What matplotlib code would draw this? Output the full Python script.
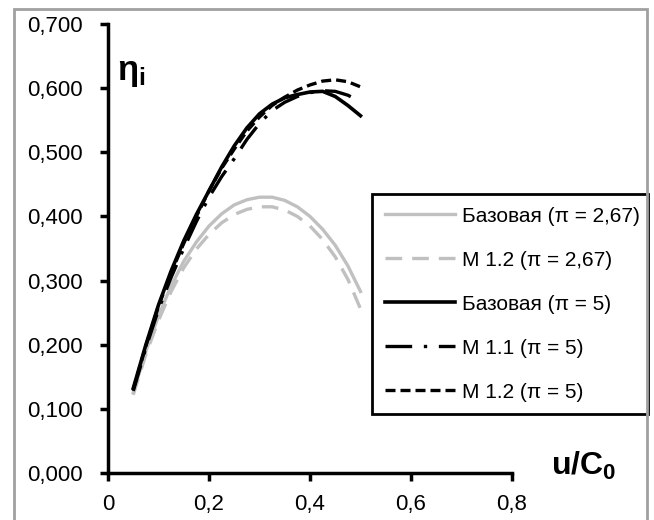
import numpy as np
import matplotlib.pyplot as plt
from matplotlib.patches import Rectangle

plt.rcParams['font.family'] = ['Liberation Sans', 'DejaVu Sans']
plt.rcParams['mathtext.fontset'] = 'custom'
plt.rcParams['mathtext.rm'] = 'Liberation Sans'
plt.rcParams['mathtext.it'] = 'Liberation Sans'
plt.rcParams['mathtext.bf'] = 'Liberation Sans:bold'

u_c0 = [0.05, 0.075, 0.10, 0.125, 0.15, 0.175, 0.20, 0.225, 0.25, 0.275,
        0.30, 0.325, 0.35, 0.375, 0.40, 0.425, 0.45, 0.475, 0.50]
base_267 = [0.125, 0.190, 0.245, 0.292, 0.330, 0.360, 0.385, 0.404, 0.418, 0.426,
            0.430, 0.430, 0.425, 0.415, 0.400, 0.380, 0.355, 0.323, 0.283]
m12_267 = [0.122, 0.185, 0.238, 0.283, 0.320, 0.349, 0.372, 0.390, 0.403, 0.411,
           0.415, 0.415, 0.410, 0.400, 0.385, 0.364, 0.337, 0.302, 0.256]
base_5 = [0.132, 0.200, 0.262, 0.315, 0.362, 0.403, 0.440, 0.477, 0.510, 0.538,
          0.560, 0.575, 0.585, 0.590, 0.594, 0.595, 0.587, 0.573, 0.557]
m11_5 = [0.128, 0.195, 0.255, 0.305, 0.350, 0.392, 0.430, 0.462, 0.490, 0.520,
         0.545, 0.565, 0.578, 0.587, 0.593, 0.596, 0.595, 0.589, 0.579]
m12_5 = [0.130, 0.198, 0.260, 0.312, 0.358, 0.400, 0.440, 0.475, 0.505, 0.533,
         0.555, 0.573, 0.586, 0.597, 0.605, 0.611, 0.613, 0.610, 0.602]

labels = ["Базовая (π = 2,67)", "М 1.2 (π = 2,67)", "Базовая (π = 5)",
          "М 1.1 (π = 5)", "М 1.2 (π = 5)"]
xticks = [0, 0.2, 0.4, 0.6, 0.8]
xticklabels = ["0", "0,2", "0,4", "0,6", "0,8"]
yticks = [0, 0.1, 0.2, 0.3, 0.4, 0.5, 0.6, 0.7]

fig = plt.figure(figsize=(6.54, 5.2), dpi=100)
ax = fig.add_axes([108 / 654, 1 - 473 / 520, 404 / 654, 449 / 520])

gray = "#c0c0c0"
ax.plot(u_c0, base_267, color=gray, lw=2.4, label=labels[0])
ax.plot(u_c0, m12_267, color=gray, lw=2.4, dashes=(5, 3), label=labels[1])
ax.plot(u_c0, base_5, color="black", lw=2.6, label=labels[2])
ax.plot(u_c0, m11_5, color="black", lw=2.4, dashes=(8, 3.5, 1, 3.5), label=labels[3])
ax.plot(u_c0, m12_5, color="black", lw=2.4, dashes=(3, 1.5), label=labels[4])

ax.set_xlim(0, 0.8)
ax.set_ylim(0, 0.7)
ax.set_xticks(xticks)
ax.set_xticklabels(xticklabels)
ax.set_yticks(yticks)
ax.set_yticklabels(["{:.3f}".format(v).replace(".", ",") for v in yticks])
for s in ["top", "right"]:
    ax.spines[s].set_visible(False)
for s in ["left", "bottom"]:
    ax.spines[s].set_linewidth(2.5)
ax.tick_params(direction="out", length=6, width=2.5, labelsize=16, pad=12)
ax.tick_params(axis="x", pad=9)

fig.text(117 / 654, 1 - 80 / 520, r"$\mathbf{\eta_i}$", fontsize=25)
fig.text(551 / 654, 1 - 475 / 520, r"$\mathbf{u/C_0}$", fontsize=23)

leg = ax.legend(loc="upper left", bbox_to_anchor=(372 / 654, 1 - 194 / 520 - 0.01, 276 / 654, 0.01),
                bbox_transform=fig.transFigure, mode="expand", fontsize=15,
                handlelength=3.4, labelspacing=1.2, handletextpad=0.3,
                borderpad=0.6, borderaxespad=0, fancybox=False, framealpha=1)
leg.get_frame().set_edgecolor("black")
leg.get_frame().set_linewidth(2)

fig.patches.append(Rectangle((14 / 654, -0.05), 633 / 654, 1.05 - 9 / 520, transform=fig.transFigure,
                             fill=False, edgecolor="#a0a0a0", lw=2))

fig.savefig("out.png", dpi=100)
